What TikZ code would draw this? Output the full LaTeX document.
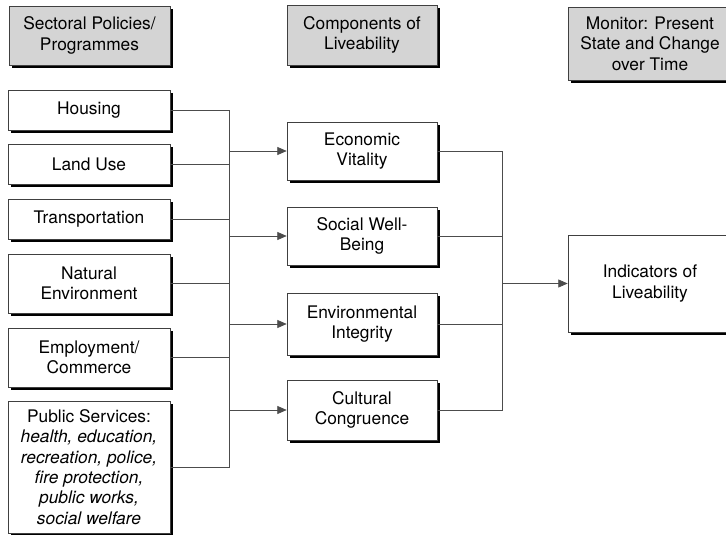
\documentclass[tikz,border=0pt]{standalone}
\usepackage{fontspec}
\setmainfont{TeX Gyre Heros}
\usetikzlibrary{arrows.meta,shadows}
\begin{document}
\begin{tikzpicture}[x=0.75pt,y=-0.75pt,
  box/.style={draw=black!75, line width=0.5pt, fill=white, align=center, inner sep=2pt,
    font=\fontsize{13}{15.3}\selectfont,
    drop shadow={shadow xshift=2.4pt, shadow yshift=-2.4pt, fill=black, opacity=1}},
  head/.style={box, fill=black!17},
  conn/.style={draw=black!70, line width=0.5pt},
  arr/.style={conn, -{Triangle[length=7pt,width=6pt]}}]
\useasboundingbox (0,0) rectangle (726,535);

% headers
\node[head, minimum width=161*0.75pt, minimum height=59*0.75pt] (h1) at (89.5,35.5) {Sectoral Policies/\\Programmes};
\node[head, minimum width=150*0.75pt, minimum height=60*0.75pt] (h2) at (362,35) {Components of\\Liveability};
\node[head, minimum width=164*0.75pt, minimum height=73*0.75pt] (h3) at (650,43.5) {Monitor: Present\\State and Change\\over Time};

% left column
\node[box, minimum width=162*0.75pt, minimum height=40*0.75pt] (housing) at (89,110) {Housing};
\node[box, minimum width=162*0.75pt, minimum height=40*0.75pt] (landuse) at (89,164) {Land Use};
\node[box, minimum width=162*0.75pt, minimum height=40*0.75pt] (transp) at (89,219) {Transportation};
\node[box, minimum width=162*0.75pt, minimum height=59*0.75pt] (natenv) at (89,283.5) {Natural\\Environment};
\node[box, minimum width=162*0.75pt, minimum height=59*0.75pt] (employ) at (89,357.5) {Employment/\\Commerce};
\node[box, minimum width=162*0.75pt, minimum height=132*0.75pt] (public) at (89,467) {Public Services:\\\itshape health, education,\\\itshape recreation, police,\\\itshape fire protection,\\\itshape public works,\\\itshape social welfare};

% middle column
\node[box, minimum width=150*0.75pt, minimum height=58*0.75pt] (econ) at (362,151) {Economic\\Vitality};
\node[box, minimum width=150*0.75pt, minimum height=58*0.75pt] (social) at (362,236) {Social Well-\\Being};
\node[box, minimum width=150*0.75pt, minimum height=62*0.75pt] (envint) at (362,324) {Environmental\\Integrity};
\node[box, minimum width=150*0.75pt, minimum height=60*0.75pt] (cult) at (362,410) {Cultural\\Congruence};

% right
\node[box, minimum width=164*0.75pt, minimum height=97*0.75pt] (indic) at (650,283.5) {Indicators of\\Liveability};

% buses
\coordinate (lb) at (229,0);
\coordinate (rb) at (502,0);

\draw[conn] (housing.east) -- (housing.east -| lb) -- (public.east -| lb) -- (public.east);
\draw[conn] (landuse.east) -- (landuse.east -| lb);
\draw[conn] (transp.east) -- (transp.east -| lb);
\draw[conn] (natenv.east) -- (natenv.east -| lb);
\draw[conn] (employ.east) -- (employ.east -| lb);

\draw[arr] (econ.west -| lb) -- (econ.west);
\draw[arr] (social.west -| lb) -- (social.west);
\draw[arr] (envint.west -| lb) -- (envint.west);
\draw[arr] (cult.west -| lb) -- (cult.west);

\draw[conn] (econ.east) -- (econ.east -| rb) -- (cult.east -| rb) -- (cult.east);
\draw[conn] (social.east) -- (social.east -| rb);
\draw[conn] (envint.east) -- (envint.east -| rb);
\draw[arr] (indic.west -| rb) -- (indic.west);
\end{tikzpicture}
\end{document}
